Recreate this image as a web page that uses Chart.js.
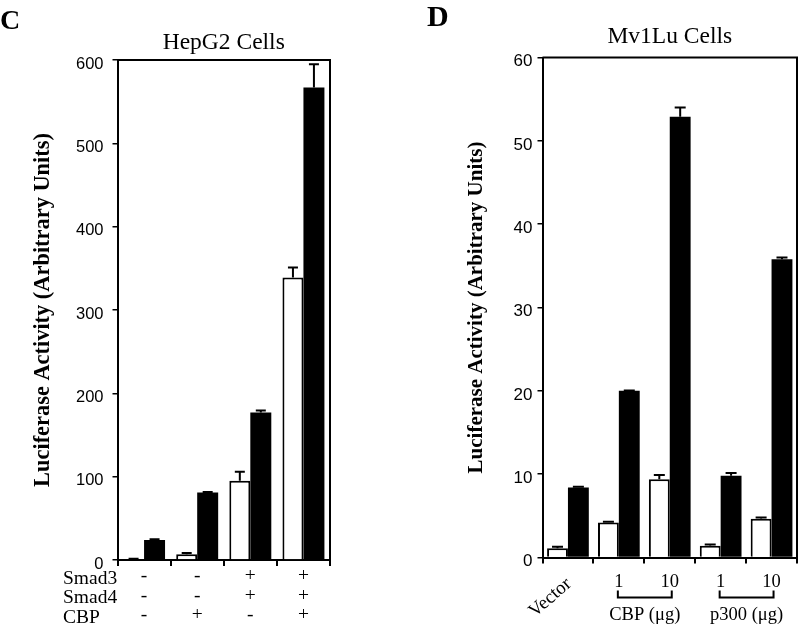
<!DOCTYPE html>
<html>
<head>
<meta charset="utf-8">
<script src="https://cdn.jsdelivr.net/npm/chart.js@4.4.1/dist/chart.umd.min.js"></script>
<style>
  html, body { margin: 0; padding: 0; background: #fff; }
  #wrap { position: relative; width: 800px; height: 625px; overflow: hidden; }
  .panel { position: absolute; top: 0; width: 400px; height: 625px; }
  #pc { left: 0; }
  #pd { left: 400px; }
</style>
</head>
<body>
<div id="wrap">
  <div class="panel" id="pc"><canvas id="cc" width="400" height="625"></canvas></div>
  <div class="panel" id="pd"><canvas id="cd" width="400" height="625"></canvas></div>
</div>
<script>
// ---------- Panel C data (HepG2 Cells) ----------
const cTitle = 'HepG2 Cells';
const cRowNames = ['Smad3', 'Smad4', 'CBP'];
const cSmad3 = ['-', '-', '+', '+'];
const cSmad4 = ['-', '-', '+', '+'];
const cCBP   = ['-', '+', '-', '+'];
const cOpen      = [1, 7, 95, 339];
const cOpenErr   = [0.5, 1.5, 11, 12];
const cFilled    = [24, 81, 177, 567];
const cFilledErr = [0.8, 0.6, 2.5, 28];
const cYTicks = [0, 100, 200, 300, 400, 500, 600];

// ---------- Panel D data (Mv1Lu Cells) ----------
const dTitle = 'Mv1Lu Cells';
const dLabels = ['Vector', '1', '10', '1', '10'];
const dOpen      = [1.1, 4.2, 9.4, 1.4, 4.65];
const dOpenErr   = [0.2, 0.1, 0.5, 0.15, 0.15];
const dFilled    = [8.4, 20.0, 52.9, 9.8, 35.8];
const dFilledErr = [0.1, 0.05, 1.1, 0.35, 0.2];
const dGroupNames = ['CBP (μg)', 'p300 (μg)'];
const dGroupFrom  = [1, 3];
const dGroupTo    = [2, 4];
const dYTicks = [0, 10, 20, 30, 40, 50, 60];

const yTitle = 'Luciferase Activity (Arbitrary Units)';
const SERIF = "'Liberation Serif', 'Times New Roman', serif";
const SANS = "'Liberation Sans', Arial, Helvetica, sans-serif";

Chart.defaults.color = '#000';
Chart.defaults.animation = false;

const errorBars = {
  id: 'errorBars',
  afterDatasetsDraw(chart, args, opts) {
    const ctx = chart.ctx, y = chart.scales.y;
    chart.data.datasets.forEach((ds, di) => {
      const meta = chart.getDatasetMeta(di);
      meta.data.forEach((bar, i) => {
        const e = ds.errors[i];
        const top = y.getPixelForValue(ds.data[i] + e);
        ctx.save();
        ctx.strokeStyle = '#000';
        ctx.lineWidth = 2;
        ctx.beginPath();
        ctx.moveTo(bar.x, bar.y);
        ctx.lineTo(bar.x, top);
        ctx.moveTo(bar.x - opts.cap / 2, top);
        ctx.lineTo(bar.x + opts.cap / 2, top);
        ctx.stroke();
        ctx.restore();
      });
    });
  }
};

const frame = {
  id: 'frame',
  afterDraw(chart) {
    const {ctx, chartArea: a} = chart;
    ctx.save();
    ctx.strokeStyle = '#000';
    ctx.lineWidth = 2;
    ctx.beginPath();
    ctx.moveTo(a.left, a.top);
    ctx.lineTo(a.right, a.top);
    ctx.lineTo(a.right, a.bottom);
    ctx.stroke();
    ctx.restore();
  }
};

function baseOptions(o) {
  return {
    responsive: false,
    devicePixelRatio: 1,
    layout: { padding: { left: 0, right: o.padRight, top: 0, bottom: 0 } },
    plugins: {
      legend: { display: false },
      tooltip: { enabled: false },
      title: {
        display: true, text: o.title, fullSize: false,
        font: { family: SERIF, size: 23.5, weight: 'normal', lineHeight: 1.2 },
        padding: { top: o.titleTop, bottom: o.titleBottom }
      },
      errorBars: { cap: o.cap }
    },
    scales: {
      x: {
        type: 'category',
        offset: true,
        grid: { display: true, offset: true, drawOnChartArea: false, drawTicks: true, tickLength: 6, color: '#000', lineWidth: 2 },
        border: { display: true, color: '#000', width: 2 },
        ticks: o.xTicks,
        afterFit: s => { s.height = o.xHeight; }
      },
      y: {
        min: o.yMin, max: o.yMax,
        afterBuildTicks: s => { s.ticks = o.yTicks.map(v => ({ value: v })); },
        grid: { display: true, drawOnChartArea: false, drawTicks: true, tickLength: 5, color: '#000', lineWidth: 1.5 },
        border: { display: true, color: '#000', width: 2 },
        ticks: { font: { family: SANS, size: o.yTickSize }, padding: o.yTickPad, labelOffset: 4, color: '#000' },
        title: {
          display: true, text: yTitle,
          font: { family: SERIF, size: o.yTitleSize, weight: 'bold', lineHeight: 1.2 },
          padding: { top: o.yTitlePad, bottom: 0 }
        },
        afterFit: s => { s.width = o.yWidth; }
      }
    }
  };
}

// ---------- Panel C ----------
const cLabels = cSmad3.map((s, i) => [s, cSmad4[i], cCBP[i]]);
const cAnnot = {
  id: 'cAnnot',
  afterDraw(chart) {
    const ctx = chart.ctx, a = chart.chartArea;
    ctx.save();
    ctx.fillStyle = '#000';
    ctx.font = "bold 28px " + SERIF;
    ctx.textAlign = 'left';
    ctx.textBaseline = 'alphabetic';
    ctx.fillText('C', 0, 29);
    ctx.font = "19.5px " + SERIF;
    ctx.textBaseline = 'middle';
    const rows = [18.5, 38, 57.5];
    cRowNames.forEach((n, i) => ctx.fillText(n, 63, a.bottom + rows[i]));
    ctx.restore();
  }
};
const cOpts = baseOptions({
  title: cTitle, titleTop: 28.9, titleBottom: 2.9, padRight: 70, cap: 10,
  xHeight: 65, yWidth: 117.5, yMin: 0, yMax: 600, yTicks: cYTicks,
  yTickSize: 16.5, yTickPad: 9, yTitleSize: 22.4, yTitlePad: 29.5,
  xTicks: { font: { family: SERIF, size: 19.5, lineHeight: 1.0 }, padding: 0.5, color: '#000', maxRotation: 0, minRotation: 0, autoSkip: false }
});
new Chart(document.getElementById('cc'), {
  type: 'bar',
  data: {
    labels: cLabels,
    datasets: [
      { data: cOpen, errors: cOpenErr, backgroundColor: '#fff', borderColor: '#000', borderWidth: 2, barPercentage: 1.0, categoryPercentage: 0.79 },
      { data: cFilled, errors: cFilledErr, backgroundColor: '#000', borderColor: '#000', borderWidth: 0, barPercentage: 1.0, categoryPercentage: 0.79 }
    ]
  },
  options: cOpts,
  plugins: [errorBars, frame, cAnnot]
});

// ---------- Panel D ----------
const dAnnot = {
  id: 'dAnnot',
  afterDraw(chart) {
    const ctx = chart.ctx, a = chart.chartArea, x = chart.scales.x;
    ctx.save();
    ctx.fillStyle = '#000';
    ctx.strokeStyle = '#000';
    ctx.font = "bold 30px " + SERIF;
    ctx.textAlign = 'left';
    ctx.textBaseline = 'alphabetic';
    ctx.fillText('D', 27, 26);
    // rotated first category label
    ctx.font = "19px " + SERIF;
    ctx.save();
    ctx.translate(x.getPixelForValue(0) + 1, a.bottom + 24);
    ctx.rotate(-41 * Math.PI / 180);
    ctx.textAlign = 'right';
    ctx.textBaseline = 'middle';
    ctx.fillText(dLabels[0], 0, 0);
    ctx.restore();
    // brackets and group names
    ctx.font = "18.5px " + SERIF;
    ctx.lineWidth = 2;
    ctx.textAlign = 'center';
    ctx.textBaseline = 'middle';
    dGroupNames.forEach((n, g) => {
      const x1 = x.getPixelForValue(dGroupFrom[g]) - 1;
      const x2 = x.getPixelForValue(dGroupTo[g]) + 2;
      const yb = a.bottom + 40;
      ctx.beginPath();
      ctx.moveTo(x1, yb - 7);
      ctx.lineTo(x1, yb);
      ctx.lineTo(x2, yb);
      ctx.lineTo(x2, yb - 7);
      ctx.stroke();
      ctx.fillText(n, (x1 + x2) / 2, a.bottom + 58);
    });
    ctx.restore();
  }
};
const dOpts = baseOptions({
  title: dTitle, titleTop: 22.9, titleBottom: 6.4, padRight: 3, cap: 11,
  xHeight: 67.5, yWidth: 142.5, yMin: 0, yMax: 60, yTicks: dYTicks,
  yTickSize: 17, yTickPad: 5, yTitleSize: 21, yTitlePad: 64.4,
  xTicks: {
    font: { family: SERIF, size: 18.5 }, padding: 8, color: '#000', maxRotation: 0, minRotation: 0, autoSkip: false,
    callback: function (v, i) { return i === 0 ? '' : dLabels[i]; }
  }
});
new Chart(document.getElementById('cd'), {
  type: 'bar',
  data: {
    labels: dLabels,
    datasets: [
      { data: dOpen, errors: dOpenErr, backgroundColor: '#fff', borderColor: '#000', borderWidth: 2, barPercentage: 1.0, categoryPercentage: 0.82 },
      { data: dFilled, errors: dFilledErr, backgroundColor: '#000', borderColor: '#000', borderWidth: 0, barPercentage: 1.0, categoryPercentage: 0.82 }
    ]
  },
  options: dOpts,
  plugins: [errorBars, frame, dAnnot]
});
</script>
</body>
</html>
